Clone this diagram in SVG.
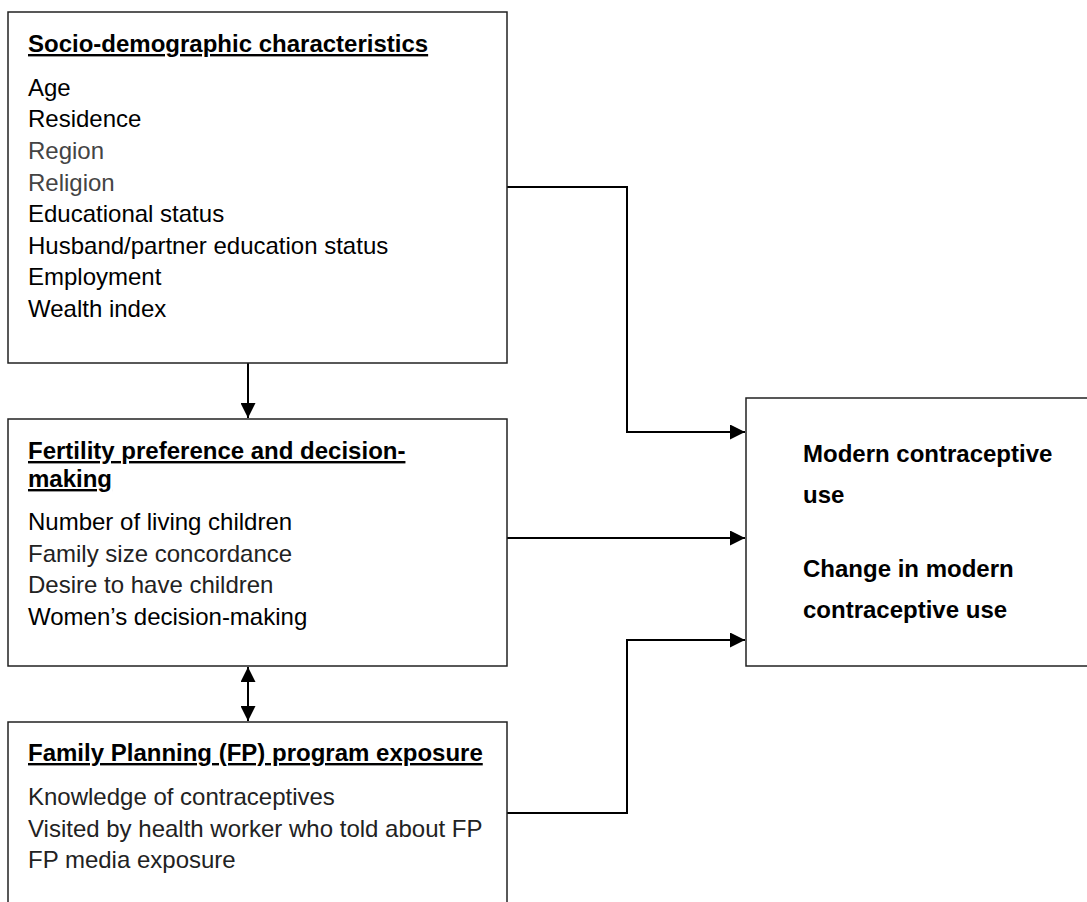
<svg xmlns="http://www.w3.org/2000/svg" width="1087" height="902" viewBox="0 0 1087 902">
<style>
.box{fill:#fff;stroke:#222;stroke-width:1.5}
.t{font-family:"Liberation Sans",Arial,sans-serif;font-size:24px;fill:#000}
.h{font-weight:bold;text-decoration:underline}
.b{font-weight:bold}
.g{fill:#444}
.d{fill:#222}
.c{fill:none;stroke:#000;stroke-width:2}
</style>
<defs>
<marker id="ah" viewBox="0 0 10 10" refX="10" refY="5" markerWidth="15" markerHeight="15" markerUnits="userSpaceOnUse" orient="auto-start-reverse">
<path d="M0,0 L10,5 L0,10 z" fill="#000"/>
</marker>
</defs>
<g id="connectors">
<path class="c" d="M507,187 H627 V432 H745" marker-end="url(#ah)"/>
<path class="c" d="M507,538 H745" marker-end="url(#ah)"/>
<path class="c" d="M507,813 H627 V640 H745" marker-end="url(#ah)"/>
<path class="c" d="M248,363 V418" marker-end="url(#ah)"/>
<path class="c" d="M248,667 V721" marker-start="url(#ah)" marker-end="url(#ah)"/>
</g>
<g id="socio">
<rect class="box" x="8" y="12" width="499" height="351"/>
<text class="t h" x="28" y="52">Socio-demographic characteristics</text>
<text class="t" x="28" y="96">Age</text>
<text class="t" x="28" y="127">Residence</text>
<text class="t g" x="28" y="159">Region</text>
<text class="t g" x="28" y="191">Religion</text>
<text class="t" x="28" y="222">Educational status</text>
<text class="t" x="28" y="254">Husband/partner education status</text>
<text class="t" x="28" y="285">Employment</text>
<text class="t" x="28" y="317">Wealth index</text>
</g>
<g id="fertility">
<rect class="box" x="8" y="419" width="499" height="247"/>
<text class="t h" x="28" y="459">Fertility preference and decision-</text>
<text class="t h" x="28" y="487">making</text>
<text class="t" x="28" y="530">Number of living children</text>
<text class="t d" x="28" y="562">Family size concordance</text>
<text class="t d" x="28" y="593">Desire to have children</text>
<text class="t" x="28" y="625">Women’s decision-making</text>
</g>
<g id="fp">
<rect class="box" x="8" y="722" width="499" height="200"/>
<text class="t h" x="28" y="761">Family Planning (FP) program exposure</text>
<text class="t d" x="28" y="805">Knowledge of contraceptives</text>
<text class="t d" x="28" y="837">Visited by health worker who told about FP</text>
<text class="t d" x="28" y="868">FP media exposure</text>
</g>
<g id="outcome">
<rect class="box" x="746" y="398" width="360" height="268"/>
<text class="t b" x="803" y="462">Modern contraceptive</text>
<text class="t b" x="803" y="503">use</text>
<text class="t b" x="803" y="577">Change in modern</text>
<text class="t b" x="803" y="618">contraceptive use</text>
</g>
</svg>
